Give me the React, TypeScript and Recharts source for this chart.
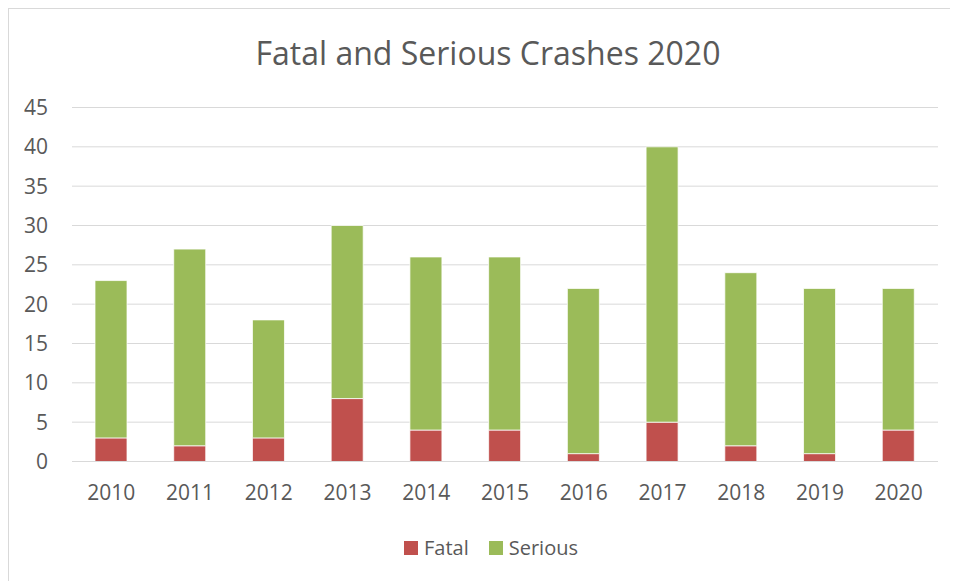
import { Bar, BarChart, CartesianGrid, XAxis, YAxis } from "recharts";

const YEARS = ["2010", "2011", "2012", "2013", "2014", "2015", "2016", "2017", "2018", "2019", "2020"];
const FATAL = [3, 2, 3, 8, 4, 4, 1, 5, 2, 1, 4];
const SERIOUS = [20, 25, 15, 22, 22, 22, 21, 35, 22, 21, 18];
const Y_TICKS = [0, 5, 10, 15, 20, 25, 30, 35, 40, 45];

const RED = "#C0504D";
const GREEN = "#9BBB59";
const TEXT = "#595959";
const FONT = "'Open Sans', 'Noto Sans', sans-serif";

const data = YEARS.map((year, i) => ({ year, fatal: FATAL[i], serious: SERIOUS[i] }));

function LegendItem({ color, label }: { color: string; label: string }) {
  return (
    <span style={{ display: "inline-flex", alignItems: "center", marginRight: 20 }}>
      <span style={{ width: 14, height: 14, background: color, marginRight: 6 }} />
      <span>{label}</span>
    </span>
  );
}

export default function App() {
  return (
    <div
      style={{
        position: "relative",
        width: 942,
        height: 572,
        border: "1px solid #d9d9d9",
        borderBottom: "none",
        background: "#fff",
        fontFamily: FONT,
        color: TEXT,
      }}
    >
      <div
        style={{
          position: "absolute",
          top: 22,
          left: 8,
          width: 942,
          textAlign: "center",
          fontSize: 32,
        }}
      >
        Fatal and Serious Crashes 2020
      </div>
      <BarChart
        width={942}
        height={572}
        data={data}
        margin={{ top: 98.5, right: 13, bottom: 79.5, left: 0 }}
      >
        <CartesianGrid vertical={false} stroke="#d9d9d9" />
        <XAxis
          dataKey="year"
          height={40}
          tickLine={false}
          axisLine={{ stroke: "#d9d9d9" }}
          tickSize={0}
          tickMargin={24}
          tick={{ fill: TEXT, fontSize: 21, fontFamily: FONT }}
        />
        <YAxis
          width={63}
          domain={[0, 45]}
          ticks={Y_TICKS}
          interval={0}
          axisLine={false}
          tickLine={false}
          tickSize={0}
          tickMargin={24}
          tick={{ fill: TEXT, fontSize: 21, fontFamily: FONT }}
        />
        <Bar dataKey="fatal" stackId="a" fill={RED} barSize={32} stroke="#fff" strokeWidth={0.75} isAnimationActive={false} />
        <Bar dataKey="serious" stackId="a" fill={GREEN} barSize={32} stroke="#fff" strokeWidth={0.75} isAnimationActive={false} />
      </BarChart>
      <div
        style={{
          position: "absolute",
          top: 525,
          left: 395,
          fontSize: 20,
          display: "flex",
        }}
      >
        <LegendItem color={RED} label="Fatal" />
        <LegendItem color={GREEN} label="Serious" />
      </div>
    </div>
  );
}
